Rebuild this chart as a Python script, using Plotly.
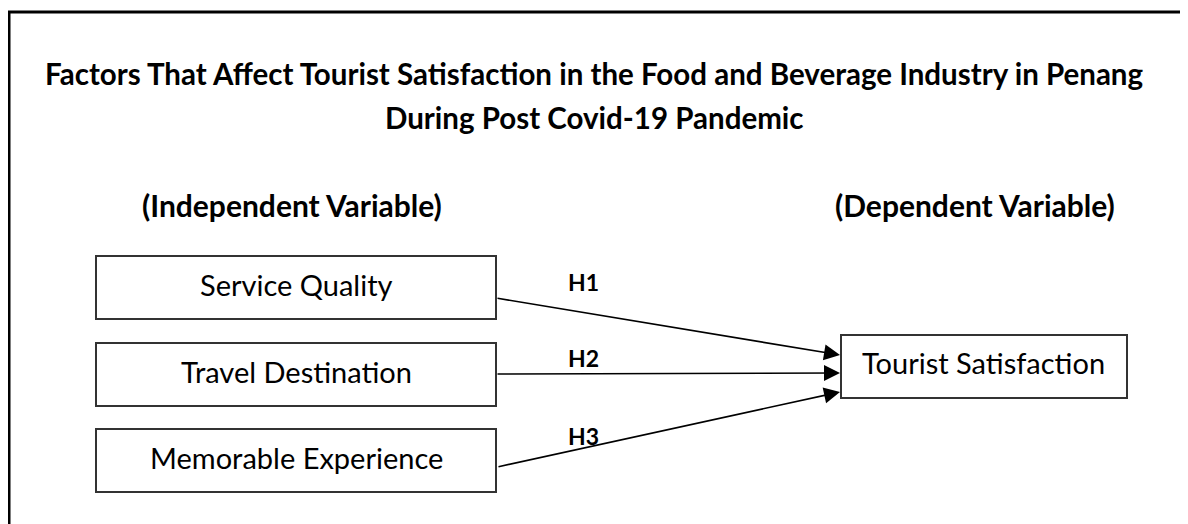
import plotly.graph_objects as go

# ---- content ----
title_lines = ["Factors That Affect Tourist Satisfaction in the Food and Beverage Industry in Penang",
               "During Post Covid-19 Pandemic"]
group_labels = ["(Independent Variable)", "(Dependent Variable)"]
independent_vars = ["Service Quality", "Travel Destination", "Memorable Experience"]
dependent_var = "Tourist Satisfaction"
hypotheses = ["H1", "H2", "H3"]

# ---- layout geometry (page pixel canvas) ----
W, H = 1188, 524
OFF = 8  # page body margin compensation
iv_boxes = [(96, 256, 496, 319), (96, 343, 496, 406), (96, 429, 496, 492)]
dv_box = (841, 335, 1127, 398)
arrow_starts = [(496, 298), (496, 374), (497, 467)]
arrow_ends = [(840, 355), (840, 373), (840, 392)]
hyp_pos = [(583, 282), (583, 358), (583, 436)]

FONT = "Lato"
fig = go.Figure()

# outer frame
fig.add_shape(type="rect", x0=9, y0=12, x1=W + 40, y1=H + 40,
              line=dict(color="black", width=3), layer="below")

# boxes
for (x0, y0, x1, y1), lab in zip(iv_boxes, independent_vars):
    fig.add_shape(type="rect", x0=x0, y0=y0, x1=x1, y1=y1,
                  line=dict(color="#333333", width=2))
    fig.add_annotation(x=(x0 + x1) / 2, y=(y0 + y1) / 2 - 3, text=lab, showarrow=False,
                       font=dict(family=FONT, size=29, color="black"))
x0, y0, x1, y1 = dv_box
fig.add_shape(type="rect", x0=x0, y0=y0, x1=x1, y1=y1, line=dict(color="#333333", width=2))
fig.add_annotation(x=(x0 + x1) / 2 - 1, y=(y0 + y1) / 2 - 4, text=dependent_var, showarrow=False,
                   font=dict(family=FONT, size=29, color="black"))

# arrows
for (sx, sy), (ex, ey) in zip(arrow_starts, arrow_ends):
    fig.add_annotation(x=ex, y=ey, ax=sx, ay=sy, xref="x", yref="y", axref="x", ayref="y",
                       text="", showarrow=True, arrowhead=2, arrowsize=2.0, arrowwidth=1.6,
                       arrowcolor="black", standoff=0)

# hypothesis labels
for (hx, hy), h in zip(hyp_pos, hypotheses):
    fig.add_annotation(x=hx, y=hy, text="<b>" + h + "</b>", showarrow=False,
                       font=dict(family=FONT, size=23, color="black"))

# title
fig.add_annotation(x=594, y=73, text="<b>" + title_lines[0] + "</b>", showarrow=False,
                   font=dict(family=FONT, size=29.5, color="black"))
fig.add_annotation(x=594, y=117, text="<b>" + title_lines[1] + "</b>", showarrow=False,
                   font=dict(family=FONT, size=29.5, color="black"))

# group headings
fig.add_annotation(x=292, y=205, text="<b>" + group_labels[0] + "</b>", showarrow=False,
                   font=dict(family=FONT, size=30, color="black"))
fig.add_annotation(x=975, y=205, text="<b>" + group_labels[1] + "</b>", showarrow=False,
                   font=dict(family=FONT, size=30, color="black"))

fig.update_layout(width=W, height=H, margin=dict(l=0, r=0, t=0, b=0),
                  paper_bgcolor="white", plot_bgcolor="white", showlegend=False,
                  xaxis=dict(range=[OFF, W + OFF], visible=False, fixedrange=True),
                  yaxis=dict(range=[H + OFF, OFF], visible=False, fixedrange=True))

fig.write_html("out.html", config={"displayModeBar": False})
